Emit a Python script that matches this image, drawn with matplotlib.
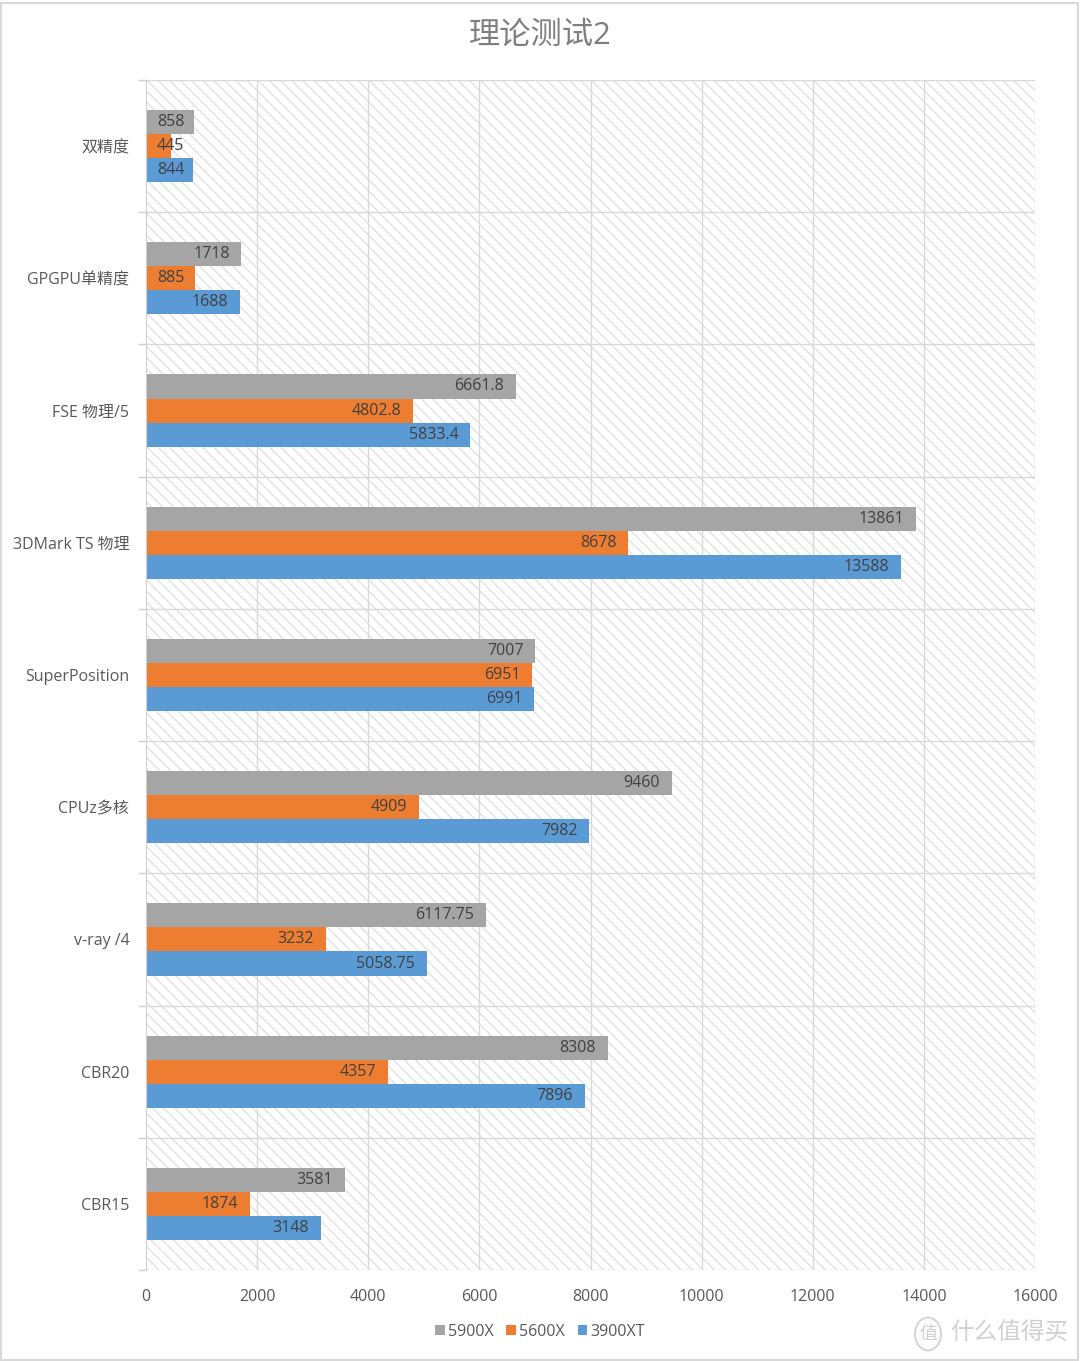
import matplotlib
matplotlib.use("Agg")
import matplotlib.pyplot as plt
from matplotlib.patches import Rectangle, Circle
import numpy as np

plt.rcParams['font.family'] = ['Open Sans', 'Noto Sans CJK SC', 'DejaVu Sans']
plt.rcParams['hatch.linewidth'] = 0.8

categories = ['双精度', 'GPGPU单精度', 'FSE 物理/5', '3DMark TS 物理', 'SuperPosition',
              'CPUz多核', 'v-ray /4', 'CBR20', 'CBR15']
s5900x = [858, 1718, 6661.8, 13861, 7007, 9460, 6117.75, 8308, 3581]
s5600x = [445, 885, 4802.8, 8678, 6951, 4909, 3232, 4357, 1874]
s3900xt = [844, 1688, 5833.4, 13588, 6991, 7982, 5058.75, 7896, 3148]
labels5900 = ['858', '1718', '6661.8', '13861', '7007', '9460', '6117.75', '8308', '3581']
labels5600 = ['445', '885', '4802.8', '8678', '6951', '4909', '3232', '4357', '1874']
labels3900 = ['844', '1688', '5833.4', '13588', '6991', '7982', '5058.75', '7896', '3148']
series_names = ['5900X', '5600X', '3900XT']
colors = ['#A5A5A5', '#ED7D31', '#5B9BD5']
xticks = [0, 2000, 4000, 6000, 8000, 10000, 12000, 14000, 16000]

fig = plt.figure(figsize=(10.8, 13.61), dpi=100)
fig.patches.append(Rectangle((0.001, 0.001), 0.997, 0.997, transform=fig.transFigure,
                             fill=False, edgecolor='#D9D9D9', linewidth=1.5))

ax = fig.add_axes([146/1080, 1-1270/1361, (1035-146)/1080, (1270-80)/1361])
ax.set_xlim(0, 16000)
n = len(categories)
ax.set_ylim(n - 0.5, -0.5)

# hatched background
ax.add_patch(Rectangle((0, 0), 1, 1, transform=ax.transAxes, facecolor='white',
                       edgecolor='#DCDCDC', linewidth=0, hatch='\\\\\\', zorder=0))

bar_h = 0.182
y = np.arange(n)
all_series = [(s5900x, labels5900), (s5600x, labels5600), (s3900xt, labels3900)]
for i, ((vals, labs), col, name) in enumerate(zip(all_series, colors, series_names)):
    ypos = y + (i - 1) * bar_h
    ax.barh(ypos, vals, height=bar_h, color=col, label=name, zorder=3)
    for yy, v, lab in zip(ypos, vals, labs):
        width_px = v / 16000 * 889
        if width_px < 50:
            ax.annotate(lab, (0, yy), xytext=(8, 0), textcoords='offset points',
                        ha='left', va='center', fontsize=11.5, color='#404040', zorder=4)
        else:
            ax.annotate(lab, (v, yy), xytext=(-8.5, 0), textcoords='offset points',
                        ha='right', va='center', fontsize=11.5, color='#404040', zorder=4)

# grid lines
for xt in xticks[1:]:
    ax.axvline(xt, color='#D9D9D9', linewidth=1, zorder=1)
for b in np.arange(n + 1) - 0.5:
    ax.axhline(b, color='#D9D9D9', linewidth=1, zorder=1)

for s in ['top', 'right', 'bottom']:
    ax.spines[s].set_visible(False)
ax.spines['left'].set_color('#D0D0D0')
ax.spines['left'].set_zorder(5)

ax.set_xticks(xticks)
ax.set_xticklabels([str(v) for v in xticks])
ax.tick_params(axis='x', length=0, pad=14, labelsize=11.5, labelcolor='#595959')
ax.set_yticks(y)
ax.set_yticklabels(categories)
ax.set_yticks(np.arange(n + 1) - 0.5, minor=True)
ax.tick_params(axis='y', which='major', length=0, pad=12, labelsize=11.5, labelcolor='#595959')
ax.tick_params(axis='y', which='minor', length=6, color='#D0D0D0', width=1)

fig.text(0.5, 1 - 36/1361, '理论测试2', ha='center', va='center', fontsize=22.5, color='#7F7F7F')

leg = fig.legend(loc='center', bbox_to_anchor=(0.5, 1 - 1332/1361), ncol=3, frameon=False,
                 fontsize=11.5, handlelength=0.6, handleheight=0.6, handletextpad=0.2,
                 columnspacing=0.8, labelcolor='#595959')

# watermark
fig.patches.append(Circle((928/1080, 1 - 1334/1361), 13/1080, transform=fig.transFigure,
                          fill=False, edgecolor='#D6D6D6', linewidth=1.5))
fig.text(928/1080, 1 - 1334/1361, '值', ha='center', va='center', fontsize=13,
         color='#D0D0D0')
fig.text(1068/1080, 1 - 1334/1361, '什么值得买', ha='right', va='center', fontsize=17,
         color='#D0D0D0')

fig.savefig('out.png', dpi=100)
